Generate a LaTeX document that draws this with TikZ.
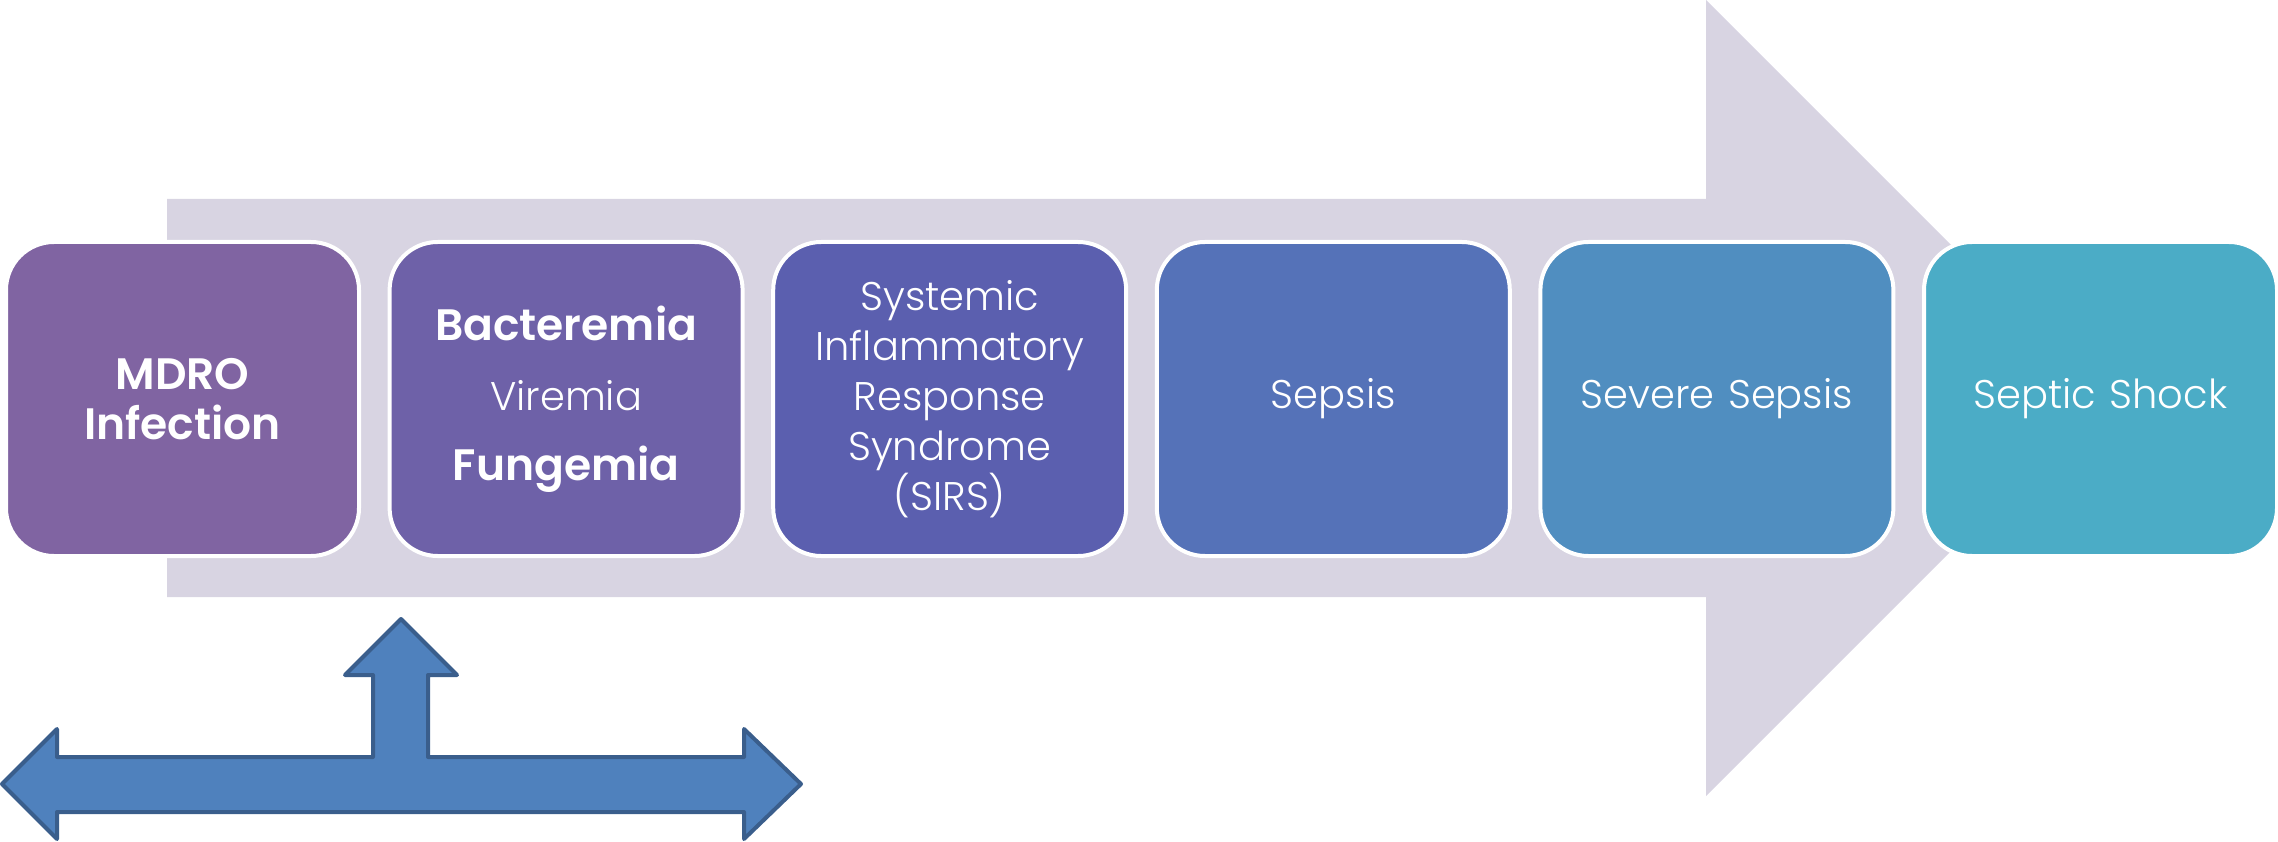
\documentclass[tikz,border=0pt]{standalone}
\usepackage{fontspec}
\setmainfont{Poppins Light}[BoldFont={Poppins SemiBold}]
\definecolor{bgarrow}{HTML}{D8D4E2}
\definecolor{cA}{HTML}{8064A2}
\definecolor{cB}{HTML}{6E61A8}
\definecolor{cC}{HTML}{5B5FAF}
\definecolor{cD}{HTML}{5572B8}
\definecolor{cE}{HTML}{508EC0}
\definecolor{cF}{HTML}{4BACC6}
\definecolor{bluefill}{HTML}{4F81BD}
\definecolor{blueline}{HTML}{3A5E8C}
\newcommand{\bigbold}[1]{{\fontsize{44}{50}\selectfont\bfseries #1}}
\tikzset{
  stagebox/.style={draw=white, line width=4pt, rounded corners=48pt,
    minimum width=353pt, minimum height=314pt, inner sep=4pt,
    text width=340pt, align=center, text=white,
    font=\fontsize{40}{50}\selectfont},
}
\begin{document}
\begin{tikzpicture}[x=1pt,y=-1pt]
\useasboundingbox (0,0) rectangle (2278,842);
% big background arrow
\fill[bgarrow] (167,199) -- (1706,199) -- (1706,0) -- (2104,398) -- (1706,796) -- (1706,597) -- (167,597) -- cycle;
% stage boxes
\node[stagebox, fill=cA] (s1) at (182.5,399) {\bigbold{MDRO}\\\bigbold{Infection}};
\node[stagebox, fill=cB] (s2) at (566.1,399) {\bigbold{Bacteremia}\\[20pt]Viremia\\[20pt]\bigbold{Fungemia}};
\node[stagebox, fill=cC] (s3) at (949.7,399) {Systemic\\Inflammatory\\Response\\Syndrome\\(SIRS)};
\node[stagebox, fill=cD] (s4) at (1333.3,399) {Sepsis};
\node[stagebox, fill=cE] (s5) at (1716.9,399) {Severe Sepsis};
\node[stagebox, fill=cF] (s6) at (2100.5,399) {Septic Shock};
% blue three-way arrow
\draw[fill=bluefill, draw=blueline, line width=4pt, line join=round]
  (2,784) -- (57,729) -- (57,757) -- (373,757) -- (373,675) -- (345,675)
  -- (401,619) -- (457,675) -- (428,675) -- (428,757) -- (744,757)
  -- (744,729) -- (801,784) -- (744,839) -- (744,812) -- (57,812)
  -- (57,839) -- cycle;
\end{tikzpicture}
\end{document}
